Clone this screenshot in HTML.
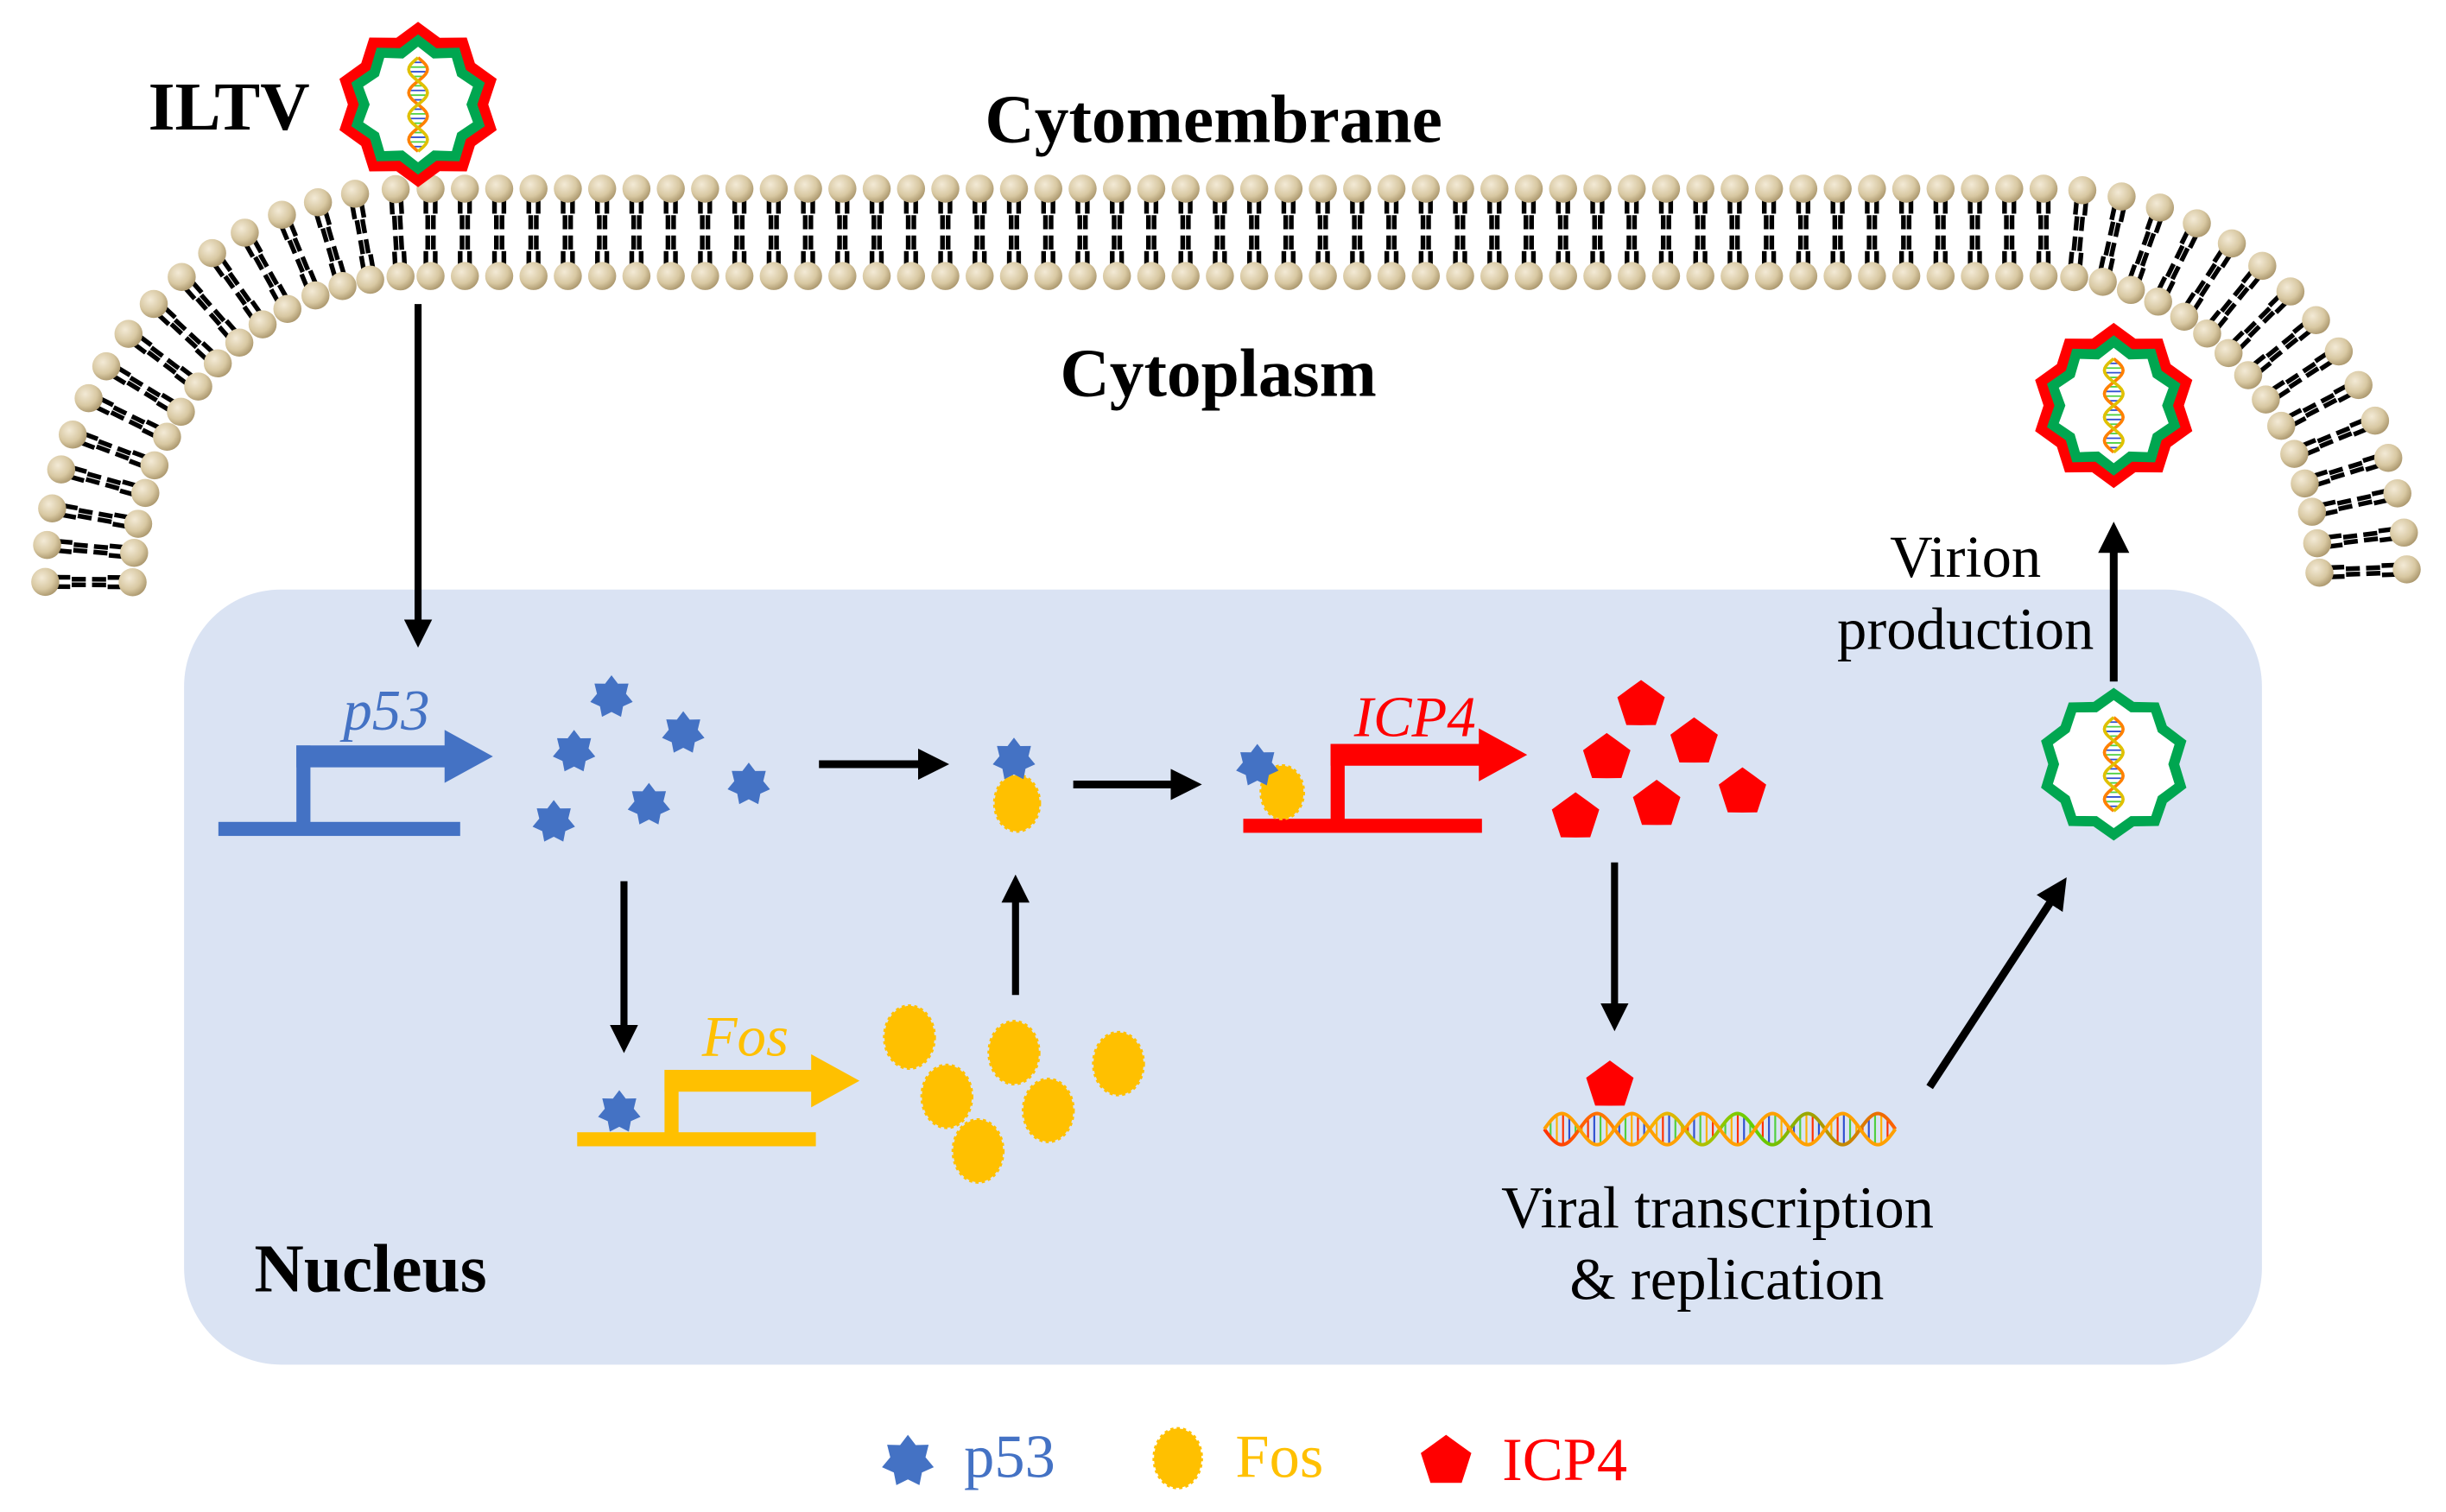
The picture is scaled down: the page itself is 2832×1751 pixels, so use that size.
<!DOCTYPE html>
<html><head><meta charset="utf-8"><style>
html,body{margin:0;padding:0;background:#fff;}
svg{display:block;}
text{font-family:"Liberation Serif",serif;}
</style></head><body>
<svg id="s" width="2832" height="1751" viewBox="0 0 1568 969.5" preserveAspectRatio="none" xmlns="http://www.w3.org/2000/svg">
<defs>
<radialGradient id="hg" cx="0.38" cy="0.35" r="0.7"><stop offset="0" stop-color="#f3ead6"/><stop offset="0.6" stop-color="#d8c8a2"/><stop offset="1" stop-color="#a8946a"/></radialGradient>
<marker id="ah" markerWidth="4" markerHeight="4" refX="1.5" refY="2" orient="auto" markerUnits="strokeWidth"><path d="M0,0 L4,2 L0,4 z" fill="#000"/></marker>
<linearGradient id="dna" x1="0" x2="1"><stop offset="0" stop-color="#ff3000"/><stop offset="0.3" stop-color="#ffb000"/><stop offset="0.6" stop-color="#60d000"/><stop offset="1" stop-color="#ff6000"/></linearGradient>
</defs>
<g id="mem"></g>
<rect x="118" y="378" width="1332" height="497" rx="62" fill="#dae3f3"/>
<g id="dyn"></g>
<text x="95" y="83" font-size="44" font-weight="bold">ILTV</text>
<text x="778" y="91" font-size="44" font-weight="bold" text-anchor="middle">Cytomembrane</text>
<text x="781" y="254" font-size="44" font-weight="bold" text-anchor="middle">Cytoplasm</text>
<text x="163" y="828" font-size="44" font-weight="bold">Nucleus</text>
<text x="220" y="468" font-size="37" font-style="italic" fill="#4472c4">p53</text>
<text x="450" y="677" font-size="37" font-style="italic" fill="#ffc000">Fos</text>
<text x="868" y="472" font-size="37" font-style="italic" fill="#ff0000">ICP4</text>
<text x="1101" y="787" font-size="38" text-anchor="middle">Viral transcription</text>
<text x="1107" y="833" font-size="38" text-anchor="middle">&amp; replication</text>
<text x="1260" y="370" font-size="38" text-anchor="middle">Virion</text>
<text x="1260" y="416" font-size="38" text-anchor="middle">production</text>
<text x="618" y="947" font-size="39" fill="#4472c4">p53</text>
<text x="792" y="947" font-size="39" fill="#ffc000">Fos</text>
<text x="963" y="949" font-size="39" fill="#ff0000">ICP4</text>
</svg>
<script>
const NS="http://www.w3.org/2000/svg";
const mem=document.getElementById('mem'),dyn=document.getElementById('dyn');
function el(p,t,a){const e=document.createElementNS(NS,t);for(const k in a)e.setAttribute(k,a[k]);p.appendChild(e);return e;}
const pts=[];
const dense=[];
for(let i=0;i<=200;i++){const a=Math.PI-i/200*Math.PI/2;dense.push([265+208*Math.cos(a),375-226*Math.sin(a)]);}
for(let x=266;x<=1314;x+=2)dense.push([x,149]);
for(let i=0;i<=200;i++){const a=Math.PI/2-i/200*Math.PI/2;dense.push([1315+200*Math.cos(a),375-226*Math.sin(a)]);}
let acc=0,next=0;
for(let i=1;i<dense.length;i++){const dx=dense[i][0]-dense[i-1][0],dy=dense[i][1]-dense[i-1][1];const d=Math.hypot(dx,dy);
 acc+=d; if(acc>=next){const nx=dy/d,ny=-dx/d; pts.push([dense[i][0],dense[i][1],nx,ny,dx/d,dy/d]); next+=22;}}
for(const p of pts){
 const [cx,cy,nx,ny,tx,ty]=p;
 for(const s of [1,-1]){
  for(const o of [-3,3]){
   el(mem,'line',{x1:cx+s*nx*22+tx*o,y1:cy+s*ny*22+ty*o,x2:cx+s*nx*12+tx*o,y2:cy+s*ny*12+ty*o,stroke:'#000','stroke-width':3});
   el(mem,'line',{x1:cx+s*nx*11+tx*o*0.6,y1:cy+s*ny*11+ty*o*0.6,x2:cx+s*nx*2+tx*o*0.6,y2:cy+s*ny*2+ty*o*0.6,stroke:'#000','stroke-width':3});
  }
 }
}
for(const p of pts){const [cx,cy,nx,ny]=p;
 for(const s of [1,-1])el(mem,'circle',{cx:cx+s*nx*28,cy:cy+s*ny*28,r:9,fill:'url(#hg)'});}
function star(cx,cy,n,ro,ri,rot){let d='';for(let i=0;i<2*n;i++){const r=i%2?ri:ro;const a=rot+i*Math.PI/n;d+=(i?'L':'M')+(cx+r*Math.sin(a)).toFixed(1)+','+(cy-r*Math.cos(a)).toFixed(1);}return d+'Z';}
function virus(cx,cy,red){
 if(red)el(dyn,'path',{d:star(cx,cy,10,53,45,0),fill:'#ff0000'});
 el(dyn,'path',{d:star(cx,cy,10,red?45:49,red?38:42,0),fill:'#00a650'});
 el(dyn,'path',{d:star(cx,cy,10,red?37:41,red?31:35,0),fill:'#fff'});
 let d1='',d2='';for(let i=0;i<=40;i++){const y=cy-30+i*1.5;const x=cx+6*Math.sin(i/40*Math.PI*4);const x2=cx-6*Math.sin(i/40*Math.PI*4);d1+=(i?'L':'M')+x+','+y;d2+=(i?'L':'M')+x2+','+y;
  if(i%2==0)el(dyn,'line',{x1:x,y1:y,x2:x2,y2:y,stroke:i%4?'#3050d0':'#50d040','stroke-width':1});}
 el(dyn,'path',{d:d1,fill:'none',stroke:'#ff8000','stroke-width':2});
 el(dyn,'path',{d:d2,fill:'none',stroke:'#e0c000','stroke-width':2});
}
virus(268,67,true);virus(1355,260,true);virus(1355,490,false);
function arrow(x1,y1,x2,y2,w){el(dyn,'line',{x1,y1,x2,y2,stroke:'#000','stroke-width':w||4,'marker-end':'url(#ah)'});}
arrow(268,195,268,404,4.5);
arrow(525,490,596,490,5);
arrow(688,503,758,503,5);
arrow(400,565,400,664,4.5);
arrow(651,638,651,572,4.5);
arrow(1035,553,1035,650,4.5);
arrow(1237,697,1318,573,5);
arrow(1355,437,1355,347,5);
function gene(x0,x1,yb,vx,yt,xe,col){
 el(dyn,'rect',{x:x0,y:yb,width:x1-x0,height:9,fill:col});
 el(dyn,'rect',{x:vx,y:yt,width:9,height:yb-yt+2,fill:col});
 el(dyn,'path',{d:`M${vx},${yt} H${xe} V${yt-10} L${xe+31},${yt+7} L${xe},${yt+24} V${yt+14} H${vx} Z`,fill:col});
}
gene(140,295,527,190,478,285,'#4472c4');
gene(797,950,525,853,477,948,'#ff0000');
gene(370,523,726,426,686,520,'#ffc000');
const blue='#4472c4',yel='#ffc000',red='#ff0000';
function p53(x,y,r){el(dyn,'path',{d:star(x,y,7,r||14,(r||14)*0.68,0),fill:blue});}
function fos(x,y,s){s=s||1;el(dyn,'ellipse',{cx:x,cy:y,rx:16*s,ry:20*s,fill:yel,stroke:yel,'stroke-width':2,'stroke-dasharray':'2 2'});}
function pent(x,y,r){r=r||16;el(dyn,'path',{d:star(x,y,5,r,r*0.81,0),fill:red});}
[[392,447],[438,470],[368,482],[480,503],[416,516],[355,527]].forEach(p=>p53(p[0],p[1]));
fos(652,515,0.9);p53(650,487);
fos(822,508,0.85);p53(806,491);
p53(397,713);
[[583,665],[650,675],[717,682],[607,703],[672,712],[627,738]].forEach(p=>fos(p[0],p[1]));
[[1052,452],[1030,486],[1086,476],[1010,524],[1062,516],[1117,508]].forEach(p=>pent(p[0],p[1]));
pent(1032,696);
let a='',b='';for(let i=0;i<=225;i++){const x=990+i;const y1=724+10*Math.sin(i/225*Math.PI*10);const y2=724-10*Math.sin(i/225*Math.PI*10);a+=(i?'L':'M')+x+','+y1;b+=(i?'L':'M')+x+','+y2;
 if(i%4==0)el(dyn,'line',{x1:x,y1:y1,x2:x,y2:y2,stroke:['#3050d0','#50d040','#ffb000','#ff3000'][(i/4)%4],'stroke-width':1.2});}
el(dyn,'path',{d:a,fill:'none',stroke:'url(#dna)','stroke-width':2.2});
el(dyn,'path',{d:b,fill:'none',stroke:'#ffa000','stroke-width':2.2});
p53(582,937,17);fos(755,935,0.95);pent(927,937,17);
</script>
</body></html>
